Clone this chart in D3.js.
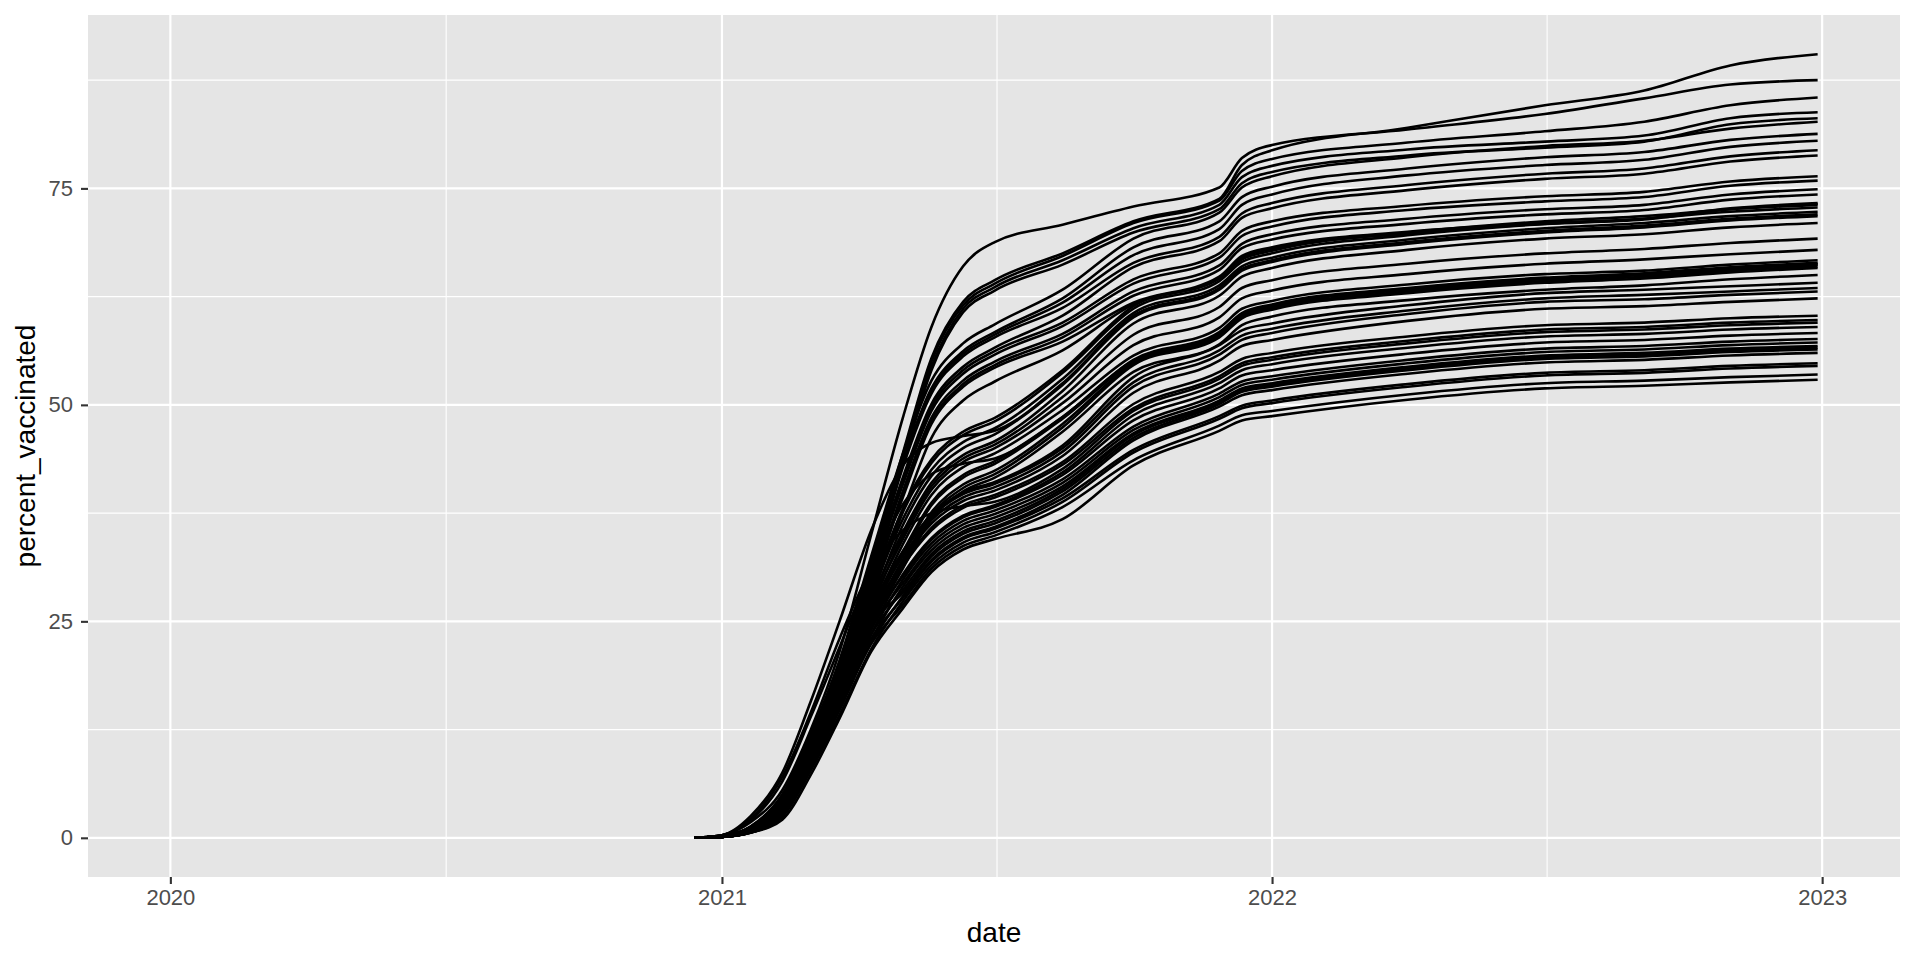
<!DOCTYPE html>
<html>
<head>
<meta charset="utf-8">
<script src="https://cdn.jsdelivr.net/npm/d3@7/dist/d3.min.js"></script>
<style>
  body { margin: 0; background: #fff; }
  svg { display: block; font-family: "Liberation Sans", Arial, Helvetica, sans-serif; }
</style>
</head>
<body>
<svg id="chart" width="1920" height="960"></svg>
<script>
var keyDates = ["2020-12-14", "2021-01-01", "2021-01-20", "2021-02-10", "2021-03-01", "2021-03-20",
  "2021-04-10", "2021-05-01", "2021-05-20", "2021-06-10", "2021-07-01", "2021-08-15", "2021-10-01",
  "2021-11-27", "2021-12-12", "2022-01-01", "2022-04-01", "2022-07-01", "2022-09-05", "2022-11-01",
  "2022-12-29"];

// x range of the data (the frame starts in 2020)
var dateLimits = ["2020-01-01", "2022-12-29"];
var yearTicks = ["2020-01-01", "2021-01-01", "2022-01-01", "2023-01-01"];
var yearLabels = ["2020", "2021", "2022", "2023"];
var yTicks = [0, 25, 50, 75];

// percent vaccinated, one row per state, values at keyDates
var percentVaccinated = [
  [0, 0.2, 1.2, 4.8, 11.5, 20, 32, 44.4, 55.4, 61.9, 64.4, 67.5, 71.2, 73.8, 77.7, 79.4, 82.0, 84.6, 86.3, 89.2, 90.5],
  [0, 0.3, 1.8, 5.5, 12.5, 21.5, 35, 48.5, 59, 66, 68.8, 70.8, 72.9, 75.1, 78.5, 80.0, 81.8, 83.6, 85.4, 87.0, 87.5],
  [0, 0.2, 1.0, 4.3, 11, 19.5, 31.5, 44, 55, 61.5, 64.0, 67.2, 71.0, 73.6, 77.0, 78.4, 80.3, 81.6, 82.7, 84.6, 85.5],
  [0, 0.2, 1.1, 4.5, 11.2, 19, 31, 43.6, 54.4, 61.1, 63.6, 66.7, 70.4, 73.1, 76.3, 77.6, 79.5, 80.4, 81.1, 83.1, 83.8],
  [0, 0.2, 0.9, 3.9, 10.4, 18.2, 30.5, 43.2, 54, 60.7, 63.2, 66.2, 69.9, 72.6, 75.6, 76.9, 78.8, 79.7, 80.4, 82.4, 83.1],
  [0, 0.2, 1.3, 5.0, 12, 20.5, 32.5, 44.3, 52.8, 57.1, 59.3, 63.3, 69.2, 72.2, 75.1, 76.4, 78.6, 79.9, 80.5, 81.9, 82.7],
  [0, 0.2, 1.1, 4.6, 11.4, 19.8, 31.5, 43.4, 51.9, 56.2, 58.4, 62.3, 68.2, 71.2, 74.0, 75.2, 77.3, 78.6, 79.2, 80.6, 81.3],
  [0, 0.2, 0.9, 4.1, 10.8, 19, 31, 43.1, 51.6, 55.9, 58.1, 61.8, 67.3, 70.3, 73.1, 74.3, 76.5, 77.7, 78.3, 79.8, 80.5],
  [0, 0.2, 1.0, 4.0, 10.5, 18.5, 30.2, 42.8, 51.3, 55.6, 57.8, 61.2, 66.4, 69.4, 72.1, 73.3, 75.4, 76.7, 77.3, 78.7, 79.4],
  [0, 0.2, 1.3, 4.9, 11.6, 19.5, 30.5, 41.6, 50.1, 54.4, 56.6, 60.3, 65.9, 68.9, 71.6, 72.7, 74.8, 76.1, 76.7, 78.1, 78.8],
  [0, 0.2, 0.9, 3.8, 10.2, 18, 29.5, 41.2, 49.7, 54.0, 56.2, 59.5, 64.5, 67.5, 70.1, 71.2, 73.0, 74.1, 74.6, 75.8, 76.4],
  [0, 0.2, 1.2, 4.5, 11, 19, 30, 40.8, 49.3, 53.6, 55.8, 59.1, 64.0, 67.0, 69.5, 70.6, 72.5, 73.5, 74.0, 75.3, 75.9],
  [0, 0.2, 1.0, 4.0, 10.3, 18, 29, 40, 48.5, 52.8, 55.0, 58.2, 63.1, 66.1, 68.6, 69.7, 71.5, 72.6, 73.1, 74.3, 74.9],
  [0, 0.1, 0.8, 3.6, 9.8, 17.5, 28.5, 39.6, 48.1, 52.4, 54.6, 57.8, 62.6, 65.6, 68.1, 69.1, 70.9, 72.0, 72.5, 73.7, 74.3],
  [0, 0.2, 1.2, 4.6, 11.2, 19, 29.5, 39.3, 47.8, 52.1, 54.3, 57.3, 61.8, 64.8, 67.2, 68.2, 70.0, 71.0, 71.5, 72.7, 73.3],
  [0, 0.2, 0.9, 3.9, 10.2, 17.8, 28, 37.7, 46.2, 50.5, 52.7, 56.3, 61.6, 64.6, 67.0, 68.0, 69.8, 70.9, 71.4, 72.6, 73.2],
  [0, 0.2, 1.0, 4.2, 10.5, 18, 28.5, 38, 43.7, 46.9, 48.5, 54.0, 61.4, 64.6, 66.8, 67.8, 69.9, 71.2, 71.8, 72.6, 73.1],
  [0, 0.1, 0.8, 3.5, 9.6, 17, 27.5, 37.6, 43.3, 46.5, 48.1, 53.7, 61.1, 64.3, 66.5, 67.5, 69.6, 70.9, 71.5, 72.3, 72.8],
  [0, 0.2, 1.2, 4.6, 11, 18.5, 28, 36.8, 42.5, 45.7, 47.3, 53.0, 60.6, 63.8, 66.0, 67.0, 69.1, 70.4, 71.0, 71.8, 72.3],
  [0, 0.3, 2.5, 7.5, 15.8, 25, 35.5, 43, 45.6, 46.4, 47.0, 52.5, 60.3, 63.5, 65.7, 66.7, 68.8, 70.1, 70.7, 71.5, 72.0],
  [0, 0.2, 0.9, 3.7, 9.9, 17.2, 27, 36.1, 41.8, 45.0, 46.6, 52.3, 60.1, 63.3, 65.5, 66.5, 68.6, 69.9, 70.5, 71.3, 71.8],
  [0, 0.2, 1.1, 4.4, 10.8, 18.2, 27.5, 35.3, 41.0, 44.2, 45.8, 51.6, 59.4, 62.6, 64.8, 65.8, 67.9, 69.2, 69.7, 70.5, 71.0],
  [0, 0.1, 0.8, 3.6, 9.7, 17, 26.5, 34.9, 40.6, 43.8, 45.4, 50.9, 58.1, 61.3, 63.5, 64.4, 66.3, 67.5, 68.0, 68.7, 69.2],
  [0, 0.2, 1.1, 4.3, 10.6, 18, 27, 34.5, 40.2, 43.4, 45.0, 50.2, 56.9, 60.1, 62.3, 63.2, 65.1, 66.3, 66.8, 67.4, 67.9],
  [0, 0.1, 0.8, 3.4, 9.5, 16.8, 26, 33.9, 39.6, 42.8, 44.4, 49.4, 55.7, 58.9, 61.1, 62.0, 63.9, 65.1, 65.5, 66.2, 66.7],
  [0, 0.3, 2.0, 6.5, 14, 22, 31, 38.5, 42.0, 43.2, 43.8, 48.6, 55.2, 58.4, 60.6, 61.6, 63.5, 64.7, 65.2, 65.9, 66.4],
  [0, 0.1, 0.7, 3.3, 9.3, 16.5, 25.5, 33, 38.7, 41.9, 43.5, 48.6, 55.1, 58.3, 60.5, 61.5, 63.4, 64.6, 65.1, 65.8, 66.3],
  [0, 0.2, 1.0, 4.1, 10.4, 17.8, 26.5, 32.7, 38.4, 41.6, 43.2, 48.4, 55.0, 58.2, 60.4, 61.4, 63.3, 64.5, 65.0, 65.7, 66.2],
  [0, 0.1, 0.7, 3.2, 9.1, 16.2, 25, 31.9, 37.6, 40.8, 42.4, 47.8, 54.8, 58.0, 60.2, 61.2, 63.1, 64.3, 64.8, 65.5, 66.0],
  [0, 0.2, 1.0, 4.0, 10.2, 17.5, 26, 31.5, 37.2, 40.4, 42.0, 47.4, 54.6, 57.8, 60.0, 61.0, 62.9, 64.1, 64.6, 65.3, 65.8],
  [0, 0.1, 0.7, 3.0, 8.8, 15.8, 24.5, 31.1, 36.8, 40.0, 41.6, 46.9, 53.8, 57.0, 59.2, 60.2, 62.1, 63.3, 63.8, 64.5, 65.0],
  [0, 0.2, 0.9, 3.9, 10.2, 17.5, 26.5, 33.1, 37.3, 39.9, 41.1, 45.3, 53.2, 56.9, 58.6, 59.4, 61.5, 62.9, 63.3, 63.7, 64.1],
  [0, 0.1, 0.8, 3.4, 9.4, 16.5, 25.5, 32.9, 37.1, 39.7, 40.9, 45.0, 52.6, 56.3, 58.0, 58.8, 60.9, 62.3, 62.7, 63.1, 63.5],
  [0, 0.2, 1.1, 4.3, 10.7, 17.8, 26, 32.5, 36.7, 39.3, 40.5, 44.6, 52.1, 55.8, 57.5, 58.3, 60.5, 61.9, 62.2, 62.7, 63.1],
  [0, 0.1, 0.8, 3.3, 9.2, 16.2, 25, 32.1, 36.3, 38.9, 40.1, 44.1, 51.4, 55.1, 56.8, 57.5, 59.7, 61.1, 61.4, 61.9, 62.3],
  [0, 0.2, 0.9, 3.8, 10, 17.2, 25.8, 31.6, 35.8, 38.4, 39.6, 43.4, 50.1, 53.8, 55.3, 56.0, 57.9, 59.2, 59.5, 60.0, 60.3],
  [0, 0.1, 0.7, 3.1, 8.9, 15.8, 24.5, 31.3, 35.5, 38.1, 39.3, 43.1, 49.6, 53.3, 54.8, 55.5, 57.4, 58.7, 59.0, 59.5, 59.8],
  [0, 0.3, 2.2, 7.0, 14.5, 23, 31, 35.5, 37.5, 38.3, 38.8, 42.6, 49.3, 53.0, 54.5, 55.2, 57.1, 58.4, 58.7, 59.2, 59.5],
  [0, 0.1, 0.7, 3.1, 8.8, 15.6, 24, 30.4, 34.6, 37.2, 38.4, 42.2, 48.8, 52.5, 54.0, 54.7, 56.6, 57.9, 58.2, 58.7, 59.0],
  [0, 0.2, 1.0, 3.9, 10, 17, 25, 30.2, 34.4, 37.0, 38.2, 41.9, 48.2, 51.9, 53.4, 54.0, 55.9, 57.2, 57.5, 58.0, 58.3],
  [0, 0.1, 0.7, 2.9, 8.5, 15.2, 23.5, 29.8, 34.0, 36.6, 37.8, 41.4, 47.5, 51.3, 52.7, 53.3, 55.2, 56.5, 56.8, 57.3, 57.6],
  [0, 0.2, 0.9, 3.6, 9.6, 16.4, 24.2, 29.4, 33.6, 36.2, 37.4, 41.0, 47.1, 50.9, 52.3, 52.9, 54.8, 56.1, 56.4, 56.9, 57.2],
  [0, 0.1, 0.6, 2.7, 8.2, 14.8, 22.8, 29.0, 33.2, 35.8, 37.0, 40.6, 46.7, 50.5, 51.9, 52.5, 54.4, 55.7, 56.0, 56.5, 56.8],
  [0, 0.2, 0.8, 3.5, 9.3, 16, 23.5, 28.6, 32.8, 35.4, 36.6, 40.3, 46.5, 50.3, 51.7, 52.3, 54.2, 55.5, 55.8, 56.3, 56.6],
  [0, 0.2, 1.2, 4.4, 10.8, 17.5, 24.8, 28.3, 32.5, 35.1, 36.3, 40.0, 46.2, 50.1, 51.5, 52.1, 54.0, 55.3, 55.6, 56.1, 56.4],
  [0, 0.1, 0.6, 2.8, 8.3, 14.8, 22.5, 27.9, 32.1, 34.7, 35.9, 39.6, 45.9, 49.8, 51.1, 51.7, 53.6, 54.9, 55.2, 55.7, 56.0],
  [0, 0.1, 0.8, 3.2, 9.0, 15.5, 23, 27.7, 31.9, 34.5, 35.7, 39.2, 44.8, 48.7, 49.9, 50.5, 52.4, 53.7, 54.0, 54.5, 54.8],
  [0, 0.1, 0.6, 2.4, 7.8, 14.2, 21.8, 27.3, 31.5, 34.1, 35.3, 38.8, 44.5, 48.4, 49.6, 50.2, 52.1, 53.4, 53.7, 54.2, 54.5],
  [0, 0.1, 0.7, 3.0, 8.7, 15.2, 22.4, 26.9, 31.1, 33.7, 34.9, 38.2, 43.6, 47.6, 48.8, 49.3, 51.2, 52.5, 52.8, 53.2, 53.5],
  [0, 0.1, 0.6, 2.1, 7.3, 13.8, 21.5, 26.5, 30.7, 33.3, 34.5, 36.8, 43.0, 47.0, 48.2, 48.7, 50.6, 51.9, 52.2, 52.6, 52.9]
];

var panel = {left: 88, right: 1900, top: 15, bottom: 877},
    parse = d3.utcParse("%Y-%m-%d"),
    dates = keyDates.map(parse);

//
// scales, with ggplot's 5% expansion on both sides
var t0 = parse(dateLimits[0]), t1 = parse(dateLimits[1]), tpad = (t1 - t0) * 0.05;
var x = d3.scaleUtc()
  .domain([new Date(+t0 - tpad), new Date(+t1 + tpad)])
  .range([panel.left, panel.right]);

var yMax = d3.max(percentVaccinated, (row) => d3.max(row)), ypad = yMax * 0.05;
var y = d3.scaleLinear()
  .domain([-ypad, yMax + ypad])
  .range([panel.bottom, panel.top]);

var xMajor = yearTicks.map(parse),
    xMinor = d3.pairs(xMajor).map((p) => new Date((+p[0] + +p[1]) / 2)),
    yStep = yTicks[1] - yTicks[0],
    yMinor = yTicks.map((v) => v + yStep / 2).filter((v) => v < y.domain()[1]);

var svg = d3.select("#chart");

//
// panel background and grid
svg.append("rect")
  .attr("x", panel.left).attr("y", panel.top)
  .attr("width", panel.right - panel.left).attr("height", panel.bottom - panel.top)
  .attr("fill", "#E5E5E5");

var grid = svg.append("g").attr("stroke", "#fff").attr("fill", "none");
grid.selectAll("line.ymin").data(yMinor).enter().append("line")
  .attr("x1", panel.left).attr("x2", panel.right)
  .attr("y1", y).attr("y2", y).attr("stroke-width", 1.1);
grid.selectAll("line.xmin").data(xMinor).enter().append("line")
  .attr("y1", panel.top).attr("y2", panel.bottom)
  .attr("x1", x).attr("x2", x).attr("stroke-width", 1.1);
grid.selectAll("line.ymaj").data(yTicks).enter().append("line")
  .attr("x1", panel.left).attr("x2", panel.right)
  .attr("y1", y).attr("y2", y).attr("stroke-width", 2.2);
grid.selectAll("line.xmaj").data(xMajor).enter().append("line")
  .attr("y1", panel.top).attr("y2", panel.bottom)
  .attr("x1", x).attr("x2", x).attr("stroke-width", 2.2);

//
// one black line per state
var line = d3.line()
  .x((d, i) => x(dates[i]))
  .y((d) => y(d))
  .curve(d3.curveMonotoneX);

svg.append("g")
  .selectAll("path").data(percentVaccinated).enter().append("path")
  .attr("d", line)
  .attr("fill", "none")
  .attr("stroke", "#000")
  .attr("stroke-width", 2.6)
  .attr("stroke-linejoin", "round");

//
// axes
var xAxis = d3.axisBottom(x)
  .tickValues(xMajor)
  .tickFormat((d, i) => yearLabels[i])
  .tickSize(7).tickPadding(5);
var yAxis = d3.axisLeft(y)
  .tickValues(yTicks)
  .tickSize(7).tickPadding(8);

function styleAxis(g) {
  g.select(".domain").remove();
  g.selectAll(".tick line").attr("stroke", "#333").attr("stroke-width", 2.1);
  g.selectAll(".tick text")
    .attr("fill", "#4D4D4D")
    .style("font-size", "22px")
    .style("font-family", "'Liberation Sans', Arial, sans-serif");
}

svg.append("g")
  .attr("transform", "translate(0," + panel.bottom + ")")
  .call(xAxis).call(styleAxis);
svg.append("g")
  .attr("transform", "translate(" + panel.left + ",0)")
  .call(yAxis).call(styleAxis);

//
// axis titles
svg.append("text")
  .attr("x", (panel.left + panel.right) / 2).attr("y", 942)
  .attr("text-anchor", "middle")
  .attr("font-size", 28)
  .text("date");

svg.append("text")
  .attr("transform", "translate(35," + (panel.top + panel.bottom) / 2 + ") rotate(-90)")
  .attr("text-anchor", "middle")
  .attr("font-size", 28)
  .text("percent_vaccinated");
</script>
</body>
</html>
